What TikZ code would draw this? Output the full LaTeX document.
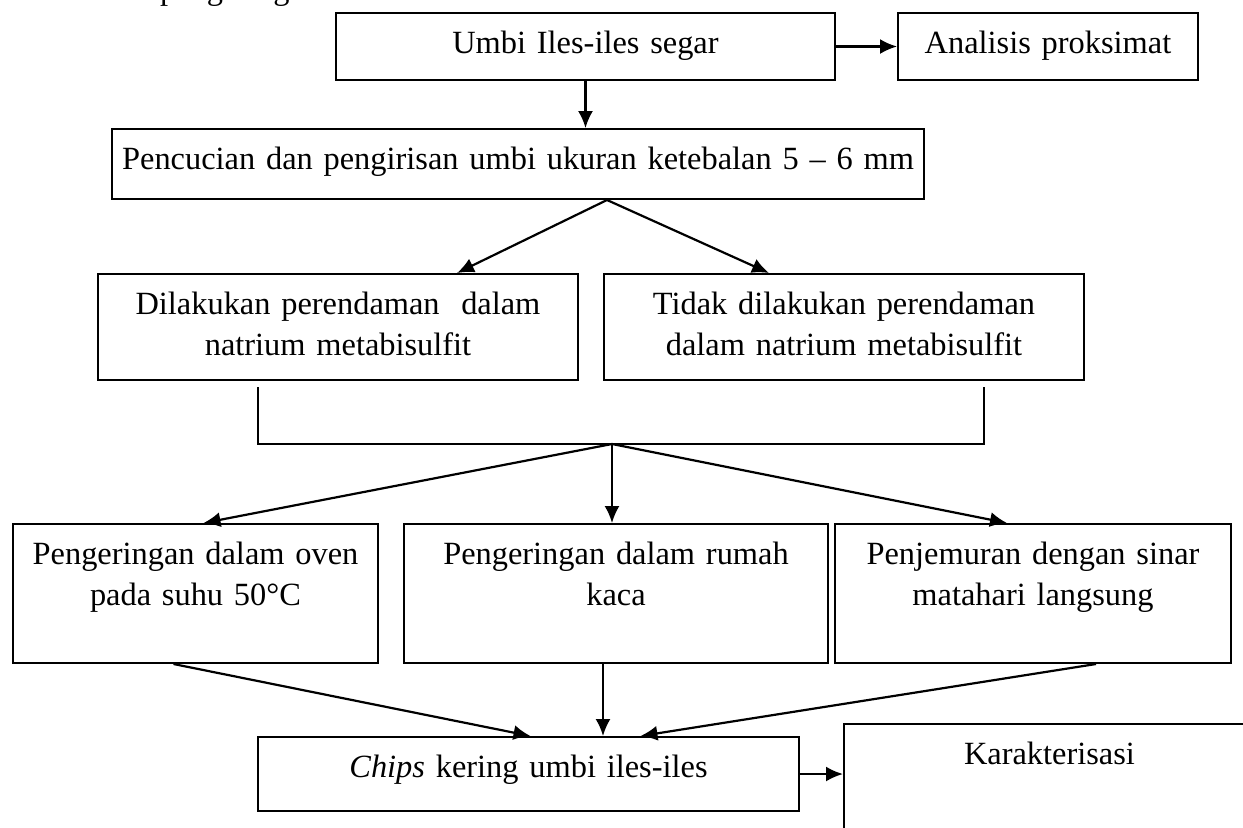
\documentclass[tikz,border=0pt]{standalone}
\usepackage{fontspec}
\setmainfont{Liberation Serif}
\usetikzlibrary{arrows.meta}

\begin{document}
\begin{tikzpicture}[x=0.5pt, y=-0.5pt,
      box/.style={
        draw,
        line width=1pt,
        anchor=north west,
        align=center,
        inner sep=0pt,
        text height=20pt
      },
      every node/.style={font=\fontsize{16.2}{20.5}\selectfont},
      line width=1.1pt,
      >={Latex[length=8.5pt,width=7.5pt]}]

    \useasboundingbox (0,0) rectangle (1243,827);

    \node[anchor=base west, inner sep=0pt] (sisa) at (159,-1) {pengeringan};

    \node[box, text width=249.5pt, text depth=13.5pt] (umbi) at (335,12) {Umbi Iles-iles segar};
    \node[box, text width=150pt, text depth=13.5pt] (analisis) at (897,12) {Analisis proksimat};
    \node[box, text width=406pt, text depth=15pt] (cuci) at (111,128) {Pencucian dan pengirisan umbi ukuran ketebalan 5 -- 6 mm};
    \node[box, text width=240pt, text depth=33pt] (rendam) at (97,273) {Dilakukan perendaman\ \ dalam\\natrium metabisulfit};
    \node[box, text width=240pt, text depth=33pt] (tidak) at (603,273) {Tidak dilakukan perendaman\\dalam natrium metabisulfit};
    \node[box, text width=182.5pt, text depth=49.5pt] (oven) at (12,523) {Pengeringan dalam oven\\pada suhu 50°C};
    \node[box, text width=212pt, text depth=49.5pt] (kaca) at (403,523) {Pengeringan dalam rumah\\kaca};
    \node[box, text width=198pt, text depth=49.5pt] (jemur) at (834,523) {Penjemuran dengan sinar\\matahari langsung};
    \node[box, text width=270.5pt, text depth=17pt] (chips) at (257,736) {\textit{Chips} kering umbi iles-iles};
    \node[box, text width=205.5pt, text depth=45pt] (karak) at (843,723) {Karakterisasi};

    \coordinate (pecah) at ([xshift=44.5pt]cuci.south);
    \coordinate (kiri) at (258,387);
    \coordinate (kanan) at (984,387);
    \coordinate (gabung) at (612,444);

    \draw[->] (umbi) -- (analisis);
    \draw[->] (umbi.south) -- (umbi.south |- cuci.north);
    \draw[->] (pecah) -- ([xshift=59.5pt]rendam.north);
    \draw[->] (pecah) -- ([xshift=-37.5pt]tidak.north);
    \draw (kiri) |- (gabung) -| (kanan);
    \draw[->] (gabung) -- ([xshift=4pt]oven.north);
    \draw[->] (gabung) -- (gabung |- kaca.north);
    \draw[->] (gabung) -- ([xshift=-13pt]jemur.north);
    \draw[->] ([xshift=-11pt]oven.south) -- ([xshift=1pt]chips.north);
    \draw[->] ([xshift=-6.5pt]kaca.south) -- ([xshift=-6.5pt]kaca.south |- chips.north);
    \draw[->] ([xshift=31.5pt]jemur.south) -- ([xshift=56pt]chips.north);
    \draw[->] (chips) -- (chips -| karak.west);
  \end{tikzpicture}
\end{document}
